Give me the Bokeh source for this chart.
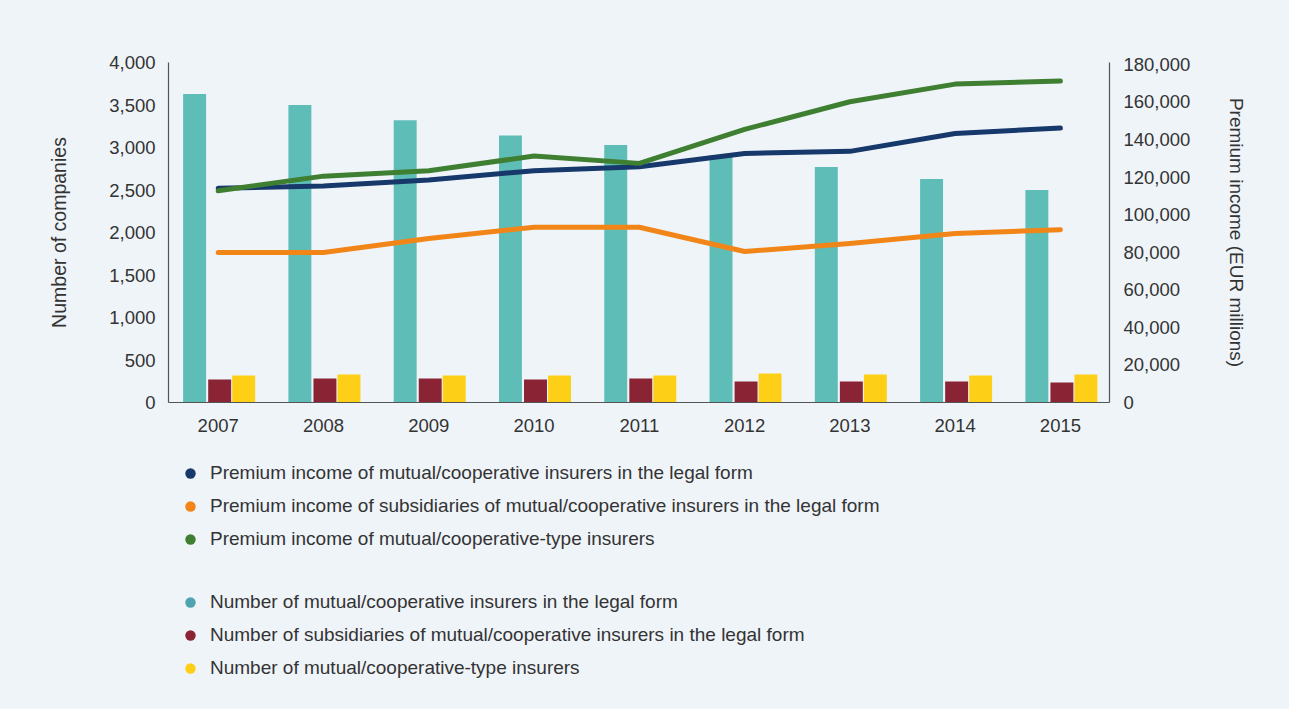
from bokeh.plotting import figure
from bokeh.layouts import column
from bokeh.models import (Range1d, LinearAxis, FixedTicker, NumeralTickFormatter,
                          Legend, LegendItem, ColumnDataSource)
from bokeh.transform import dodge
from bokeh.embed import file_html
from bokeh.resources import INLINE

years = ["2007", "2008", "2009", "2010", "2011", "2012", "2013", "2014", "2015"]

# Number of companies (left axis)
n_mutual = [3630, 3500, 3320, 3140, 3030, 2910, 2770, 2630, 2500]
n_subsid = [270, 282, 282, 270, 282, 247, 247, 247, 235]
n_type = [318, 329, 318, 318, 318, 341, 329, 318, 329]

# Premium income, EUR millions (right axis)
p_mutual = [114100, 115200, 118400, 123400, 125500, 132600, 133700, 143200, 146100]
p_subsid = [79900, 79900, 87300, 93300, 93300, 80400, 84700, 90000, 92000]
p_type = [112700, 120500, 123400, 131200, 127300, 145400, 160100, 169500, 171100]

left_ticks = [0, 500, 1000, 1500, 2000, 2500, 3000, 3500, 4000]
right_ticks = [0, 20000, 40000, 60000, 80000, 100000, 120000, 140000, 160000, 180000]

labels_lines = ["Premium income of mutual/cooperative insurers in the legal form",
                "Premium income of subsidiaries of mutual/cooperative insurers in the legal form",
                "Premium income of mutual/cooperative-type insurers"]
labels_bars = ["Number of mutual/cooperative insurers in the legal form",
               "Number of subsidiaries of mutual/cooperative insurers in the legal form",
               "Number of mutual/cooperative-type insurers"]

C_TEAL = "#5fbdb8"
C_RED = "#8a2434"
C_YEL = "#fdd017"
C_BLUE = "#17386a"
C_ORANGE = "#f28518"
C_GREEN = "#3f7f32"
LEG_TEAL = "#4fa3ae"
BG = "#eff4f9"
TXT = "#333333"
FONT = "Liberation Sans"

src = ColumnDataSource(dict(x=list(range(len(years))), n_mutual=n_mutual, n_subsid=n_subsid,
                            n_type=n_type, p_mutual=p_mutual, p_subsid=p_subsid, p_type=p_type))

p = figure(width=1289, height=445, output_backend="svg", toolbar_location=None,
           x_range=Range1d(-0.472, 8.466), y_range=Range1d(0, 4000),
           min_border_left=168, min_border_right=180, min_border_top=62, min_border_bottom=43,
           background_fill_color=BG, border_fill_color=BG, outline_line_color=None)
p.extra_y_ranges = {"prem": Range1d(0, 181000)}
p.grid.visible = False

bw = 0.218
p.vbar(x=dodge("x", -0.224), top="n_mutual", width=bw, source=src, color=C_TEAL, line_color=None)
p.vbar(x=dodge("x", 0.014), top="n_subsid", width=bw, source=src, color=C_RED, line_color=None)
p.vbar(x=dodge("x", 0.242), top="n_type", width=bw, source=src, color=C_YEL, line_color=None)

for col, c in (("p_mutual", C_BLUE), ("p_subsid", C_ORANGE), ("p_type", C_GREEN)):
    p.line(x="x", y=col, source=src, y_range_name="prem", line_color=c, line_width=5,
           line_cap="round", line_join="round")

# axes
xa = p.xaxis[0]
xa.ticker = FixedTicker(ticks=list(range(len(years))))
xa.major_label_overrides = {i: y for i, y in enumerate(years)}
ya = p.yaxis[0]
ya.ticker = FixedTicker(ticks=left_ticks)
ya.formatter = NumeralTickFormatter(format="0,0")
ya.axis_label = "Number of companies"
ra = LinearAxis(y_range_name="prem", ticker=FixedTicker(ticks=right_ticks),
                formatter=NumeralTickFormatter(format="0,0"),
                axis_label="Premium income (EUR millions)")
p.add_layout(ra, "right")

for ax in (xa, ya, ra):
    ax.axis_line_color = "#555555"
    ax.axis_line_width = 1.2
    ax.major_tick_line_color = None
    ax.minor_tick_line_color = None
    ax.major_tick_out = 0
    ax.major_tick_in = 0
    ax.minor_tick_out = 0
    ax.major_label_text_font = FONT
    ax.major_label_text_font_size = "18.5px"
    ax.major_label_text_color = TXT
    ax.axis_label_text_font = FONT
    ax.axis_label_text_font_style = "normal"
    ax.axis_label_text_color = TXT
ya.axis_label_text_font_size = "19.5px"
ra.axis_label_text_font_size = "19px"
xa.major_label_standoff = 16
ya.major_label_standoff = 13
ya.axis_label_standoff = 36
ra.major_label_standoff = 14
ra.axis_label_standoff = 33

# legend panel below the chart (its frame is aligned with the chart frame)
p2 = figure(width=1289, height=264, output_backend="svg", toolbar_location=None,
            x_range=Range1d(0, 1), y_range=Range1d(0, 1),
            x_axis_location=None, y_axis_location=None, min_border=0,
            background_fill_color=BG, border_fill_color=BG, outline_line_color=None)
p2.grid.visible = False

nan = float("nan")
def dummy(c):
    return p2.scatter(x=[nan], y=[nan], marker="circle", color=c, line_color=None)

r_lines = [dummy(c) for c in (C_BLUE, C_ORANGE, C_GREEN)]
r_bars = [dummy(c) for c in (LEG_TEAL, C_RED, C_YEL)]

def make_legend(labels, rends, loc):
    return Legend(items=[LegendItem(label=l, renderers=[r]) for l, r in zip(labels, rends)],
                  location=loc, orientation="vertical",
                  background_fill_alpha=0, border_line_alpha=0,
                  label_text_font=FONT, label_text_font_size="19px", label_text_color=TXT,
                  glyph_width=26, glyph_height=26, label_standoff=7, spacing=7,
                  padding=9, margin=0)

p2.add_layout(make_legend(labels_lines, r_lines, (0, 148)), "center")
p2.add_layout(make_legend(labels_bars, r_bars, (0, 19)), "center")

layout = column(p, p2, spacing=0, styles={"background-color": BG})
open("out.html", "w").write(file_html(layout, INLINE))
